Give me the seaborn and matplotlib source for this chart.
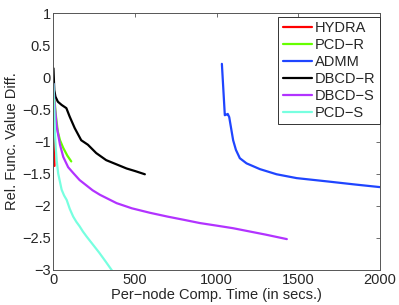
import numpy as np
import pandas as pd
import matplotlib
matplotlib.use("Agg")
import matplotlib.pyplot as plt
import seaborn as sns

sns.set_theme(style="white")
plt.rcParams['font.family'] = ['Liberation Sans', 'DejaVu Sans']

# valores
hydra_t = [0, 2, 4, 6]
hydra_v = [-0.1, -0.7, -1.1, -1.38]

pcdr_t = [0, 4, 8, 16, 27, 40, 60, 85, 109]
pcdr_v = [-0.1, -0.28, -0.4, -0.62, -0.85, -0.98, -1.1, -1.22, -1.31]

admm_t = [1032, 1050, 1060, 1068, 1077, 1087, 1101, 1118, 1142, 1183, 1265,
          1367, 1490, 1673, 1850, 2000]
admm_v = [0.21, -0.59, -0.58, -0.57, -0.62, -0.77, -0.98, -1.13, -1.26, -1.34,
          -1.43, -1.51, -1.57, -1.62, -1.67, -1.71]

dbcdr_t = [0, 2, 5, 12, 27, 50, 79, 99, 130, 170, 211, 262, 323, 400, 448, 500, 560]
dbcdr_v = [0.14, 0.0, -0.2, -0.3, -0.38, -0.43, -0.48, -0.61, -0.79, -0.98,
           -1.05, -1.18, -1.29, -1.37, -1.42, -1.46, -1.51]

dbcds_t = [0, 5, 10, 20, 40, 60, 90, 121, 160, 200, 240, 285, 387, 480, 591,
           700, 800, 897, 1000, 1100, 1200, 1300, 1430]
dbcds_v = [-0.1, -0.35, -0.5, -0.77, -1.05, -1.24, -1.4, -1.49, -1.6, -1.68,
           -1.76, -1.83, -1.96, -2.04, -2.11, -2.17, -2.22, -2.27, -2.31, -2.35,
           -2.40, -2.45, -2.52]

pcds_t = [0, 2, 5, 9, 14, 20, 29, 40, 50, 65, 81, 100, 121, 140, 160, 180,
          203, 240, 280, 320, 356, 370]
pcds_v = [-0.1, -0.3, -0.5, -0.87, -1.1, -1.3, -1.5, -1.63, -1.75, -1.84,
          -1.91, -2.05, -2.17, -2.25, -2.32, -2.4, -2.48, -2.6, -2.73, -2.87,
          -3.0, -3.05]

series = [
    ('HYDRA', hydra_t, hydra_v, '#ff0000'),
    ('PCD\u2212R', pcdr_t, pcdr_v, '#66ff00'),
    ('ADMM', admm_t, admm_v, '#1f45ff'),
    ('DBCD\u2212R', dbcdr_t, dbcdr_v, '#000000'),
    ('DBCD\u2212S', dbcds_t, dbcds_v, '#b233ff'),
    ('PCD\u2212S', pcds_t, pcds_v, '#77ffe0'),
]

fig = plt.figure(figsize=(3.99, 3.05), dpi=100)
ax = fig.add_axes([0.134, 0.115, 0.818, 0.842])

for name, t, v, c in series:
    df = pd.DataFrame({'t': t, 'v': v})
    sns.lineplot(data=df, x='t', y='v', ax=ax, color=c, linewidth=1.6,
                 label=name, sort=False, estimator=None)

ax.set_xlim(0, 2000)
ax.set_ylim(-3, 1)
ax.set_xticks([0, 500, 1000, 1500, 2000])
ax.set_yticks([-3, -2.5, -2, -1.5, -1, -0.5, 0, 0.5, 1])
ax.set_yticklabels(['\u22123', '\u22122.5', '\u22122', '\u22121.5', '\u22121', '\u22120.5', '0', '0.5', '1'])
ax.tick_params(direction='in', length=3, width=0.6, color='#555555',
               labelsize=10.5, top=True, right=True, pad=2)
for s in ax.spines.values():
    s.set_color('#555555')
    s.set_linewidth(0.7)
ax.set_xlabel('Per\u2212node Comp. Time (in secs.)', fontsize=10.5, labelpad=1)
ax.set_ylabel('Rel. Func. Value Diff.', fontsize=10.5, labelpad=2)

leg = ax.legend(loc='upper right', bbox_to_anchor=(1.0, 0.985), borderaxespad=0,
                fontsize=10.5, frameon=True, fancybox=False, framealpha=1,
                edgecolor='#333333', handlelength=2.0, handletextpad=0.2,
                labelspacing=0.2, borderpad=0.3)
leg.get_frame().set_linewidth(0.7)

fig.savefig('out.png', dpi=100)
